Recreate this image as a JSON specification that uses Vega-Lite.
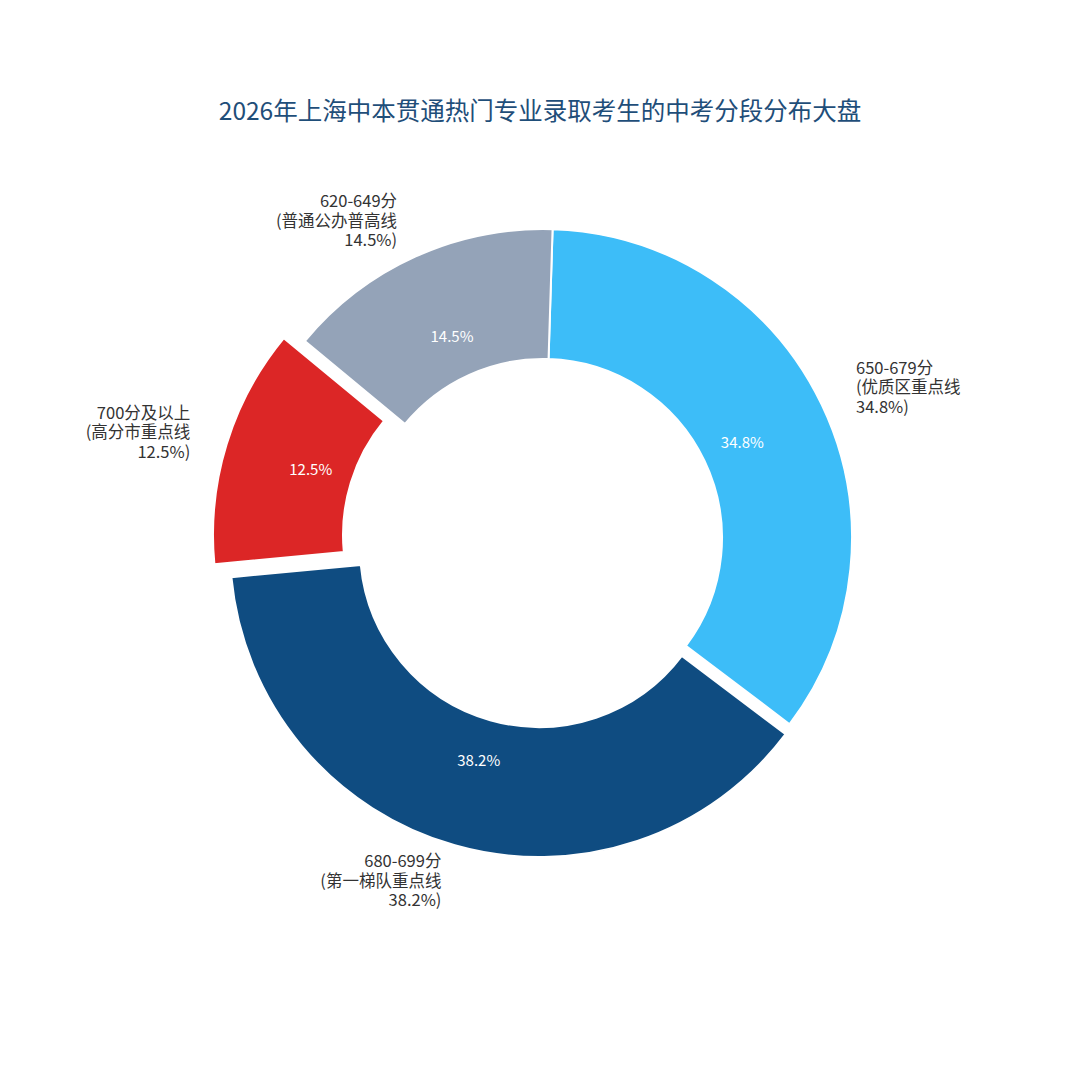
{
  "$schema": "https://vega.github.io/schema/vega-lite/v6.json",
  "description": "2026年上海中本贯通热门专业录取考生的中考分段分布（环形图）",
  "width": 1074,
  "height": 776,
  "autosize": {"type": "none"},
  "padding": {"left": 6, "top": 150, "right": 0, "bottom": 154},
  "background": "white",
  "title": {
    "text": "2026年上海中本贯通热门专业录取考生的中考分段分布大盘",
    "font": "Noto Sans CJK SC",
    "fontSize": 24.5,
    "fontWeight": "normal",
    "color": "#1F4E79",
    "anchor": "middle",
    "offset": 25,
    "dx": -3
  },
  "data": {
    "values": [
      {"rank": 1, "band": "650-679分", "pct": 34.8, "pctText": "34.8%", "label": "650-679分\n(优质区重点线\n34.8%)"},
      {"rank": 2, "band": "680-699分", "pct": 38.2, "pctText": "38.2%", "label": "680-699分\n(第一梯队重点线\n38.2%)"},
      {"rank": 3, "band": "700分及以上", "pct": 12.5, "pctText": "12.5%", "label": "700分及以上\n(高分市重点线\n12.5%)"},
      {"rank": 4, "band": "620-649分", "pct": 14.5, "pctText": "14.5%", "label": "620-649分\n(普通公办普高线\n14.5%)"}
    ]
  },
  "encoding": {
    "theta": {"field": "pct", "type": "quantitative", "stack": true, "scale": {"range": [0.031, 6.3142]}},
    "order": {"field": "rank", "type": "quantitative", "sort": "ascending"},
    "color": {
      "field": "band",
      "type": "nominal",
      "legend": null,
      "scale": {
        "domain": ["650-679分", "680-699分", "700分及以上", "620-649分"],
        "range": ["#3DBDF8", "#0F4C81", "#DC2626", "#94A3B8"]
      }
    }
  },
  "layer": [
    {
      "mark": {"type": "arc", "outerRadius": 309, "innerRadius": 179, "stroke": "white", "strokeWidth": 2},
      "encoding": {"opacity": {"condition": {"test": "datum.rank == 1 || datum.rank == 4", "value": 1}, "value": 0}}
    },
    {
      "mark": {"type": "arc", "outerRadius": 309, "innerRadius": 179, "stroke": "white", "strokeWidth": 2, "xOffset": -4, "yOffset": 10},
      "encoding": {"opacity": {"condition": {"test": "datum.rank == 2", "value": 1}, "value": 0}}
    },
    {
      "mark": {"type": "arc", "outerRadius": 309, "innerRadius": 179, "stroke": "white", "strokeWidth": 2, "xOffset": -21, "yOffset": -3},
      "encoding": {"opacity": {"condition": {"test": "datum.rank == 3", "value": 1}, "value": 0}}
    },
    {
      "mark": {"type": "text", "radius": 221, "font": "Noto Sans CJK SC", "fontSize": 15},
      "encoding": {
        "text": {"condition": {"test": "datum.rank == 1 || datum.rank == 4", "field": "pctText"}, "value": ""},
        "color": {"value": "white"}
      }
    },
    {
      "mark": {"type": "text", "radius": 221, "font": "Noto Sans CJK SC", "fontSize": 15, "xOffset": -4, "yOffset": 10},
      "encoding": {
        "text": {"condition": {"test": "datum.rank == 2", "field": "pctText"}, "value": ""},
        "color": {"value": "white"}
      }
    },
    {
      "mark": {"type": "text", "radius": 221, "font": "Noto Sans CJK SC", "fontSize": 15, "xOffset": -21, "yOffset": -3},
      "encoding": {
        "text": {"condition": {"test": "datum.rank == 3", "field": "pctText"}, "value": ""},
        "color": {"value": "white"}
      }
    },
    {
      "mark": {"type": "text", "radius": 347, "align": "left", "dy": -19.5, "lineBreak": "\n", "lineHeight": 19.5, "font": "Noto Sans CJK SC", "fontSize": 16.5},
      "encoding": {
        "text": {"condition": {"test": "datum.rank == 1", "field": "label"}, "value": ""},
        "color": {"value": "#333333"}
      }
    },
    {
      "mark": {"type": "text", "radius": 347, "align": "right", "dx": -3, "dy": -19.5, "lineBreak": "\n", "lineHeight": 19.5, "font": "Noto Sans CJK SC", "fontSize": 16.5},
      "encoding": {
        "text": {"condition": {"test": "datum.rank == 4", "field": "label"}, "value": ""},
        "color": {"value": "#333333"}
      }
    },
    {
      "mark": {"type": "text", "radius": 347, "align": "right", "dx": -3, "dy": -19.5, "lineBreak": "\n", "lineHeight": 19.5, "font": "Noto Sans CJK SC", "fontSize": 16.5, "xOffset": -4, "yOffset": 10},
      "encoding": {
        "text": {"condition": {"test": "datum.rank == 2", "field": "label"}, "value": ""},
        "color": {"value": "#333333"}
      }
    },
    {
      "mark": {"type": "text", "radius": 347, "align": "right", "dy": -19.5, "lineBreak": "\n", "lineHeight": 19.5, "font": "Noto Sans CJK SC", "fontSize": 16.5, "xOffset": -21, "yOffset": -3},
      "encoding": {
        "text": {"condition": {"test": "datum.rank == 3", "field": "label"}, "value": ""},
        "color": {"value": "#333333"}
      }
    }
  ],
  "config": {"view": {"stroke": null}}
}
